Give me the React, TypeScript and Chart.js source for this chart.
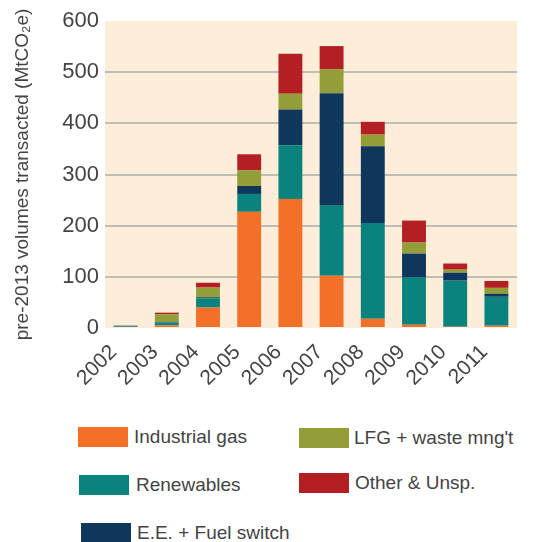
import React, { useEffect, useRef } from "react";
import { Chart, registerables } from "chart.js";

Chart.register(...registerables);

const years = ["2002", "2003", "2004", "2005", "2006", "2007", "2008", "2009", "2010", "2011"];
const industrialGas = [0, 5, 40, 227, 252, 102, 18, 6.5, 2.5, 4.5];
const renewables = [3, 6, 18, 35, 105, 137, 187, 92, 90, 56.5];
const eeFuelSwitch = [1.5, 1, 2, 15.5, 70, 220, 150, 47, 15.5, 6];
const lfgWaste = [0, 15, 19, 31, 31, 47, 23, 21.5, 6, 11.5];
const otherUnsp = [0, 3, 9.5, 31, 78, 45, 25, 43, 12, 13.5];
const yTicks = [0, 100, 200, 300, 400, 500, 600];

const seriesNames = ["Industrial gas", "Renewables", "E.E. + Fuel switch", "LFG + waste mng't", "Other & Unsp."];
const seriesColors = ["#f37029", "#0a837f", "#0f375c", "#939e39", "#b41f24"];

const FONT = "'Liberation Sans', Arial, sans-serif";
const TEXT = "#444444";

const bgPlugin = {
  id: "plotBg",
  beforeDraw(chart: any) {
    const { ctx, chartArea } = chart;
    ctx.save();
    ctx.fillStyle = "#fdeed9";
    ctx.fillRect(chartArea.left, chartArea.top, chartArea.right - chartArea.left, chartArea.bottom - chartArea.top);
    ctx.restore();
  },
};

const legendPos = [
  { box: [78, 427], text: 134 },
  { box: [79, 475], text: 136 },
  { box: [81, 523], text: 137 },
  { box: [299, 428], text: 354 },
  { box: [299, 473], text: 355 },
];

export default function App() {
  const ref = useRef<HTMLCanvasElement>(null);
  useEffect(() => {
    if (!ref.current) return;
    const values = [industrialGas, renewables, eeFuelSwitch, lfgWaste, otherUnsp];
    const chart = new Chart(ref.current, {
      type: "bar",
      data: {
        labels: years,
        datasets: values.map((v, i) => ({
          label: seriesNames[i],
          data: v,
          backgroundColor: seriesColors[i],
          borderWidth: 0,
          barPercentage: 0.58,
          categoryPercentage: 1,
        })),
      },
      options: {
        responsive: false,
        animation: false,
        layout: { padding: { top: 21, right: 24, left: 0, bottom: 0 } },
        plugins: { legend: { display: false }, tooltip: { enabled: false } },
        scales: {
          x: {
            stacked: true,
            grid: { display: false },
            border: { display: false },
            ticks: {
              minRotation: 45,
              maxRotation: 45,
              padding: 4,
              labelOffset: -12,
              color: TEXT,
              font: { family: FONT, size: 21 },
            },
            afterFit(scale: any) {
              scale.height = 72;
            },
          },
          y: {
            stacked: true,
            min: 0,
            max: 600,
            afterBuildTicks(scale: any) {
              scale.ticks = yTicks.map((v) => ({ value: v }));
            },
            grid: {
              drawTicks: false,
              lineWidth: 2,
              color: (c: any) => (c.tick && (c.tick.value === 0 || c.tick.value === 600) ? "rgba(0,0,0,0)" : "#c0bdb8"),
            },
            border: { display: false },
            ticks: {
              padding: 6,
              color: TEXT,
              font: { family: FONT, size: 22 },
            },
            title: {
              display: true,
              text: "pre-2013 volumes transacted (MtCO₂e)",
              color: TEXT,
              font: { family: FONT, size: 19 },
              padding: { top: 11, bottom: 0 },
            },
            afterFit(scale: any) {
              scale.width = 105;
            },
          },
        },
      },
      plugins: [bgPlugin],
    });
    return () => chart.destroy();
  }, []);

  return (
    <div style={{ position: "absolute", left: 0, top: 0, width: 541, height: 542, background: "#fff", overflow: "hidden" }}>
      <canvas ref={ref} width={541} height={400} style={{ position: "absolute", left: 0, top: 0, width: 541, height: 400 }} />
      {seriesNames.map((name, i) => (
        <React.Fragment key={name}>
          <div
            style={{
              position: "absolute",
              left: legendPos[i].box[0],
              top: legendPos[i].box[1],
              width: 50,
              height: 20,
              background: seriesColors[i],
            }}
          />
          <div
            style={{
              position: "absolute",
              left: legendPos[i].text,
              top: legendPos[i].box[1] - 2,
              height: 24,
              lineHeight: "24px",
              fontFamily: FONT,
              fontSize: 19,
              color: TEXT,
              whiteSpace: "nowrap",
            }}
          >
            {name}
          </div>
        </React.Fragment>
      ))}
    </div>
  );
}
